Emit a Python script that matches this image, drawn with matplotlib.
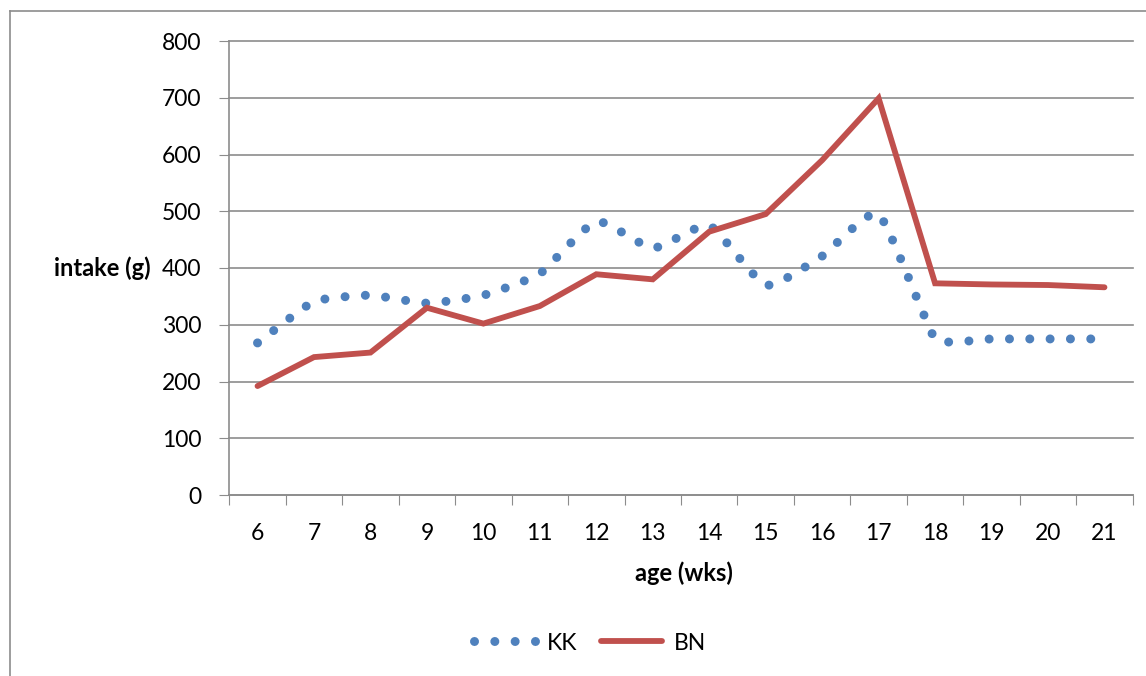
import numpy as np
import matplotlib
matplotlib.use('Agg')
import matplotlib.pyplot as plt
from matplotlib.path import Path
from matplotlib.patches import PathPatch
from matplotlib.lines import Line2D

plt.rcParams['font.family'] = ['Lato', 'DejaVu Sans']
plt.rcParams['font.size'] = 16.5

weeks = [6, 7, 8, 9, 10, 11, 12, 13, 14, 15, 16, 17, 18, 19, 20, 21]
kk = [268, 341, 352, 338, 352, 390, 482, 435, 475, 370, 421, 495, 275, 275, 275, 275]
bn = [192, 243, 251, 330, 302, 333, 389, 380, 464, 495, 590, 699, 373, 371, 370, 366]

blue = '#4F81BD'
red = '#C0504D'
grey = '#8C8C8C'


def smooth_path(ax, x, y, tension=1 / 6):
    # bezier through the points, arms worked out in screen space
    p = ax.transData.transform(np.column_stack([x, y]))
    n = len(p)
    seg = np.hypot(*np.diff(p, axis=0).T)
    verts = [p[0]]
    for i in range(n - 1):
        for j, sign in ((i, 1), (i + 1, -1)):
            d = p[min(j + 1, n - 1)] - p[max(j - 1, 0)]
            d = d / np.hypot(*d)
            arm = tension * min(seg[max(j - 1, 0)], seg[min(j, n - 2)])
            verts.append(p[j] + sign * arm * d)
        verts.append(p[i + 1])
    codes = [Path.MOVETO] + [Path.CURVE4] * (3 * (n - 1))
    return Path(ax.transData.inverted().transform(np.array(verts)), codes)


fig = plt.figure(figsize=(11.46, 6.76), dpi=100)
ax = fig.add_axes([229.3 / 1146, 1 - 495 / 676, 903.4 / 1146, 454 / 676])
ax.set_xlim(weeks[0] - 0.5, weeks[-1] + 0.5)
ax.set_ylim(0, 800)

dots = (0, (0.001, 2.25))
kk_line = PathPatch(smooth_path(ax, weeks, kk), fill=False, edgecolor=blue,
                    lw=6.5, linestyle=dots, capstyle='round', zorder=3)
ax.add_patch(kk_line)
ax.plot(weeks, bn, color=red, lw=4.2, solid_capstyle='round',
        solid_joinstyle='miter', zorder=4)

ax.set_yticks(range(0, 801, 100))
ax.set_xticks(np.arange(weeks[0] - 0.5, weeks[-1] + 1, 1))
ax.set_xticks(weeks, minor=True)
ax.set_xticklabels(weeks, minor=True)
ax.tick_params(axis='x', which='major', length=7, color=grey, labelbottom=False)
ax.tick_params(axis='x', which='minor', length=0, pad=20)
ax.tick_params(axis='y', length=7, color=grey, pad=13)
ax.grid(axis='y', color=grey, lw=1.2)
for gl in ax.get_ygridlines():
    gl.set_clip_on(False)
for s in ['top', 'right']:
    ax.spines[s].set_visible(False)
for s in ['left', 'bottom']:
    ax.spines[s].set_color(grey)
    ax.spines[s].set_linewidth(1.2)

fig.text(151 / 1146, 1 - 268 / 676, 'intake (g)', ha='right', va='center',
         fontweight='bold', fontsize=17)
fig.text(684 / 1146, 1 - 573 / 676, 'age (wks)', ha='center', va='center',
         fontweight='bold', fontsize=17)

handles = [Line2D([], [], color=blue, lw=6.5, linestyle=dots, dash_capstyle='round'),
           Line2D([], [], color=red, lw=4.2, solid_capstyle='round')]
fig.legend(handles, ['KK', 'BN'], loc='center', bbox_to_anchor=(590 / 1146, 1 - 643 / 676),
           ncol=2, frameon=False, handlelength=2.7, handletextpad=0.5,
           columnspacing=1.0)

# chart frame
fig.add_artist(Line2D([10 / 1146, 10 / 1146], [0, 1 - 11 / 676], color=grey, lw=1.2))
fig.add_artist(Line2D([10 / 1146, 1], [1 - 11 / 676, 1 - 11 / 676], color=grey, lw=1.2))

fig.savefig('out.png', dpi=100)
